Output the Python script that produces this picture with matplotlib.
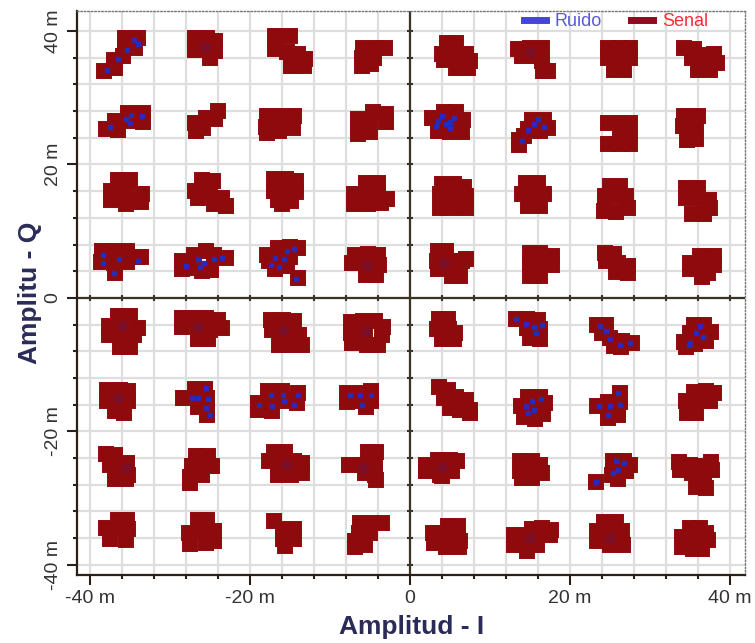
import matplotlib
matplotlib.use("Agg")
import matplotlib.pyplot as plt
from matplotlib.lines import Line2D
import numpy as np

plt.rcParams['font.family'] = ['Liberation Sans Narrow', 'Liberation Sans', 'DejaVu Sans']

# ---- data: Senal (red clusters), per cluster (I, Q) points in "m" ----
senal_I = [
    # row Q~37 (left half)
    -35.6, -34.0, -34.4, -35.8, -37.0, -38.2, -36.8, -35.6,
    -26.8, -25.3, -24.3, -26.8, -25.0, -24.3, -25.6,
    -16.8, -15.0, -16.8, -15.3, -14.0, -13.1, -14.8, -13.2,
    -5.8, -4.3, -3.1, -6.0, -4.5, -6.0, -4.8,
    # row Q~26
    -35.2, -33.3, -36.8, -35.0, -33.4, -38.0, -36.5,
    -24.0, -24.3, -25.5, -25.8, -26.7, -26.8,
    -17.9, -16.3, -14.5, -18.0, -16.3, -14.6, -17.9,
    -4.6, -3.0, -6.5, -5.0, -3.0, -6.5, -5.0,
    # row Q~15.5
    -36.5, -35.0, -37.4, -35.5, -33.5, -37.4, -35.5, -33.6,
    -26.0, -24.6, -26.8, -25.0, -23.5, -23.0, -24.5, -26.5,
    -17.0, -15.5, -14.2, -17.0, -15.5, -14.2, -16.0, -14.8, -16.5,
    -5.5, -4.0, -7.0, -5.5, -4.0, -2.9, -7.0, -5.2, -3.6,
    # row Q~5.5
    -38.5, -37.0, -35.4, -33.6, -38.6, -37.0, -35.3, -36.8,
    -28.5, -27.0, -25.5, -24.5, -23.0, -27.5, -26.0, -24.8, -28.5,
    -17.9, -16.5, -15.0, -14.0, -17.6, -16.2, -15.0, -16.8, -14.0, -15.3,
    -6.8, -5.2, -4.0, -7.2, -5.5, -3.8, -5.5, -4.2,
    # row Q~37 (right half)
    4.6, 5.8, 4.0, 5.5, 7.0, 7.5, 5.8, 7.2, 4.2,
    13.5, 15.0, 16.5, 14.0, 15.6, 16.5, 16.6, 17.3,
    24.8, 26.3, 27.5, 24.8, 26.3, 27.5, 25.5, 26.8,
    34.3, 35.5, 35.2, 36.5, 38.0, 36.0, 37.5, 38.4,
    # row Q~26
    4.2, 5.8, 2.7, 4.3, 5.8, 6.6, 3.5, 5.0, 6.5,
    15.2, 16.8, 14.8, 16.3, 17.3, 13.6, 14.3, 13.6,
    24.8, 26.3, 27.5, 26.3, 27.5, 24.8, 26.3, 27.5,
    34.3, 36.0, 34.1, 35.8, 34.6, 35.8, 34.8,
    # row Q~15.5
    4.0, 5.5, 6.8, 3.8, 5.5, 7.0, 3.8, 5.3, 7.0,
    14.5, 16.0, 14.0, 15.5, 16.8, 14.8, 16.2,
    25.0, 26.3, 24.4, 25.8, 27.0, 24.3, 25.7, 27.2,
    34.5, 36.0, 34.5, 36.0, 37.4, 35.2, 36.7, 37.5,
    # row Q~5.5
    3.5, 4.5, 3.4, 5.0, 6.5, 7.0, 5.2, 6.3, 3.5,
    15.0, 16.3, 17.8, 15.0, 16.5, 17.8, 15.0, 16.3,
    24.4, 25.5, 24.5, 26.0, 27.2, 25.8, 27.2,
    36.3, 38.0, 35.0, 36.5, 38.0, 36.5, 35.0, 37.3,
    # row Q~-5 (left)
    -36.5, -35.0, -37.6, -36.0, -34.0, -37.6, -36.0, -34.5, -36.2, -35.0,
    -28.5, -27.0, -25.5, -24.0, -23.5, -28.5, -26.5, -25.0, -26.5, -25.2,
    -17.3, -15.8, -14.5, -17.2, -15.5, -13.8, -16.3, -13.5, -15.0,
    -7.3, -5.8, -4.3, -3.4, -7.3, -5.6, -3.5, -7.2, -5.3, -4.0,
    # row Q~-15
    -37.8, -36.2, -35.2, -37.8, -36.3, -35.2, -35.7, -36.8,
    -26.8, -25.6, -28.3, -26.5, -25.3, -25.3, -25.3, -26.5,
    -17.7, -16.0, -14.0, -19.0, -17.3, -15.7, -14.1, -19.0, -17.2,
    -7.8, -6.3, -4.8, -7.8, -6.2, -4.8, -5.5,
    # row Q~-25
    -38.0, -36.8, -35.3, -37.5, -36.0, -35.2, -36.8, -35.5,
    -26.7, -25.2, -27.2, -25.5, -24.7, -27.5, -26.0, -27.5,
    -17.0, -15.6, -17.6, -16.0, -14.5, -13.5, -16.5, -14.8, -13.5,
    -5.2, -4.2, -7.6, -6.0, -4.4, -4.3, -4.2, -5.6,
    # row Q~-35
    -36.5, -35.3, -38.0, -36.5, -35.2, -37.5, -35.5,
    -26.5, -25.3, -27.6, -26.0, -24.5, -27.5, -25.5, -24.5,
    -17.0, -15.8, -14.5, -15.8, -14.5, -15.6,
    -6.2, -4.8, -3.5, -6.3, -5.0, -6.8, -6.8, -5.6,
    # row Q~-5 (right)
    3.6, 4.7, 3.4, 4.9, 5.6, 4.0, 5.5,
    13.2, 14.6, 16.0, 14.6, 16.3, 15.0, 16.3,
    23.4, 24.5, 24.0, 25.0, 25.5, 26.5, 27.8, 26.4,
    35.5, 36.8, 35.0, 36.5, 37.6, 34.3, 35.6, 37.0, 34.5,
    # row Q~-15
    3.6, 4.8, 4.3, 5.7, 7.0, 5.0, 6.2, 7.5, 7.5,
    14.8, 16.3, 13.9, 15.4, 16.9, 14.2, 15.6, 16.6,
    26.2, 24.8, 26.2, 23.4, 24.8, 26.0, 24.8, 26.0,
    35.5, 37.0, 38.0, 34.5, 36.0, 37.5, 34.6, 35.8,
    # row Q~-25
    2.0, 3.5, 5.0, 5.9, 2.0, 3.7, 5.2, 4.0,
    13.8, 15.2, 16.2, 13.8, 15.5, 16.5, 14.0, 15.3,
    23.3, 25.4, 26.8, 27.5, 25.4, 27.0, 26.0, 25.2,
    33.6, 35.0, 37.6, 36.3, 33.8, 35.3, 36.8, 37.7, 36.2, 37.0, 35.8,
    # row Q~-35
    4.8, 6.0, 2.9, 4.3, 5.8, 6.2, 3.0, 4.5, 6.1,
    15.3, 16.5, 17.6, 13.0, 14.5, 16.0, 17.5, 13.0, 14.5, 14.6, 15.9,
    24.3, 25.8, 23.4, 25.0, 26.5, 23.4, 25.0, 26.6,
    35.0, 36.3, 37.0, 34.0, 35.5, 37.3, 34.0, 35.4, 36.5,
]
senal_Q = [
    39.0, 39.0, 37.4, 36.2, 35.6, 34.0, 34.4, 37.6,
    38.9, 39.0, 38.5, 37.2, 36.0, 37.0, 37.6,
    39.2, 39.2, 37.3, 36.8, 36.5, 35.8, 34.8, 34.8,
    37.5, 37.5, 37.5, 36.0, 36.0, 34.8, 35.0,
    27.7, 27.7, 26.5, 26.5, 26.4, 25.3, 25.2,
    28.0, 26.8, 27.0, 25.5, 25.0, 26.2,
    27.3, 27.3, 27.2, 25.6, 25.0, 25.5, 24.7,
    27.9, 27.5, 26.8, 26.5, 26.3, 24.5, 24.8,
    17.6, 17.6, 16.0, 15.6, 15.6, 14.6, 14.0, 14.3,
    17.6, 17.5, 16.0, 15.8, 15.0, 13.8, 14.0, 15.0,
    17.8, 17.8, 17.5, 16.0, 16.0, 15.8, 14.0, 14.5, 14.6,
    17.2, 17.2, 15.5, 15.5, 15.5, 14.8, 14.1, 14.1, 14.2,
    7.0, 7.0, 7.0, 6.2, 5.4, 5.2, 5.4, 3.8,
    5.5, 6.5, 7.0, 6.5, 6.0, 4.5, 4.0, 4.2, 4.3,
    6.5, 7.5, 7.6, 7.5, 5.5, 5.8, 6.2, 4.4, 3.0, 4.8,
    6.5, 6.6, 6.5, 5.2, 5.0, 5.0, 3.4, 3.4,
    38.2, 38.2, 36.6, 36.6, 36.6, 35.5, 34.5, 34.4, 35.6,
    37.3, 37.5, 37.5, 36.3, 36.2, 35.5, 34.0, 34.0,
    37.4, 37.5, 37.4, 36.0, 36.0, 36.0, 34.1, 34.2,
    37.4, 37.3, 36.0, 36.4, 36.5, 34.2, 34.1, 35.2,
    27.9, 27.9, 26.9, 26.5, 26.5, 26.7, 25.0, 24.9, 24.9,
    26.6, 26.6, 25.3, 25.0, 25.4, 23.6, 24.3, 22.9,
    26.2, 26.2, 26.2, 24.6, 24.6, 23.0, 23.0, 23.0,
    27.2, 27.2, 25.8, 25.8, 23.7, 23.8, 24.9,
    17.0, 17.0, 16.6, 15.5, 15.3, 15.3, 13.4, 13.4, 13.5,
    17.2, 17.2, 15.5, 15.5, 15.5, 13.8, 13.8,
    16.8, 16.8, 15.3, 15.3, 15.2, 13.0, 12.9, 13.5,
    16.4, 16.4, 15.0, 15.0, 14.6, 12.6, 12.6, 13.5,
    7.0, 7.0, 5.5, 5.5, 5.5, 5.8, 3.3, 3.3, 4.3,
    6.8, 6.8, 6.3, 5.2, 5.2, 5.0, 3.3, 3.3,
    6.8, 6.6, 5.5, 5.2, 4.8, 3.9, 3.8,
    6.3, 6.3, 5.2, 5.0, 5.0, 3.1, 4.4, 3.8,
    -2.7, -2.7, -4.2, -4.2, -4.5, -5.6, -5.6, -5.5, -7.3, -7.3,
    -3.0, -3.0, -3.0, -3.3, -4.5, -4.3, -4.5, -4.8, -6.2, -6.2,
    -3.3, -3.3, -3.5, -4.8, -4.8, -5.5, -7.0, -7.0, -7.0,
    -3.6, -3.5, -3.5, -4.3, -5.2, -5.2, -5.5, -6.8, -7.0, -7.0,
    -13.8, -13.8, -14.0, -15.4, -15.4, -15.5, -17.2, -17.0,
    -13.6, -13.6, -15.0, -15.0, -15.0, -16.5, -17.6, -16.4,
    -14.0, -14.0, -14.2, -15.8, -15.5, -15.5, -15.8, -16.8, -16.9,
    -14.2, -14.2, -14.0, -15.6, -15.5, -15.5, -16.3,
    -23.4, -23.5, -24.8, -25.0, -25.5, -26.5, -27.2, -27.2,
    -23.7, -23.7, -25.2, -25.2, -25.2, -26.8, -26.5, -27.7,
    -23.1, -23.1, -24.5, -24.6, -24.5, -24.8, -26.5, -26.5, -26.2,
    -23.1, -23.1, -25.0, -25.0, -25.0, -26.5, -27.3, -26.2,
    -33.3, -33.3, -34.5, -34.7, -34.7, -36.2, -36.3,
    -33.3, -33.3, -35.2, -35.0, -35.0, -36.9, -36.8, -36.5,
    -33.4, -34.6, -34.6, -36.2, -36.2, -37.2,
    -33.8, -33.8, -33.8, -35.2, -35.2, -36.5, -37.4, -37.0,
    -3.2, -3.2, -4.7, -4.7, -5.2, -6.1, -6.1,
    -3.2, -3.2, -3.3, -4.5, -4.6, -6.0, -6.1,
    -4.1, -4.1, -5.2, -6.0, -7.2, -6.5, -6.8, -7.4,
    -4.0, -4.0, -5.3, -5.3, -5.1, -6.6, -6.9, -6.5, -7.4,
    -13.4, -13.8, -15.0, -14.8, -15.3, -16.5, -16.8, -16.8, -17.3,
    -14.8, -14.8, -16.2, -16.2, -15.8, -17.8, -18.1, -17.4,
    -14.3, -15.6, -15.6, -16.2, -16.6, -16.8, -18.0, -17.6,
    -14.1, -14.0, -14.3, -15.5, -15.5, -15.5, -17.2, -17.3,
    -25.0, -24.3, -24.3, -24.5, -26.0, -26.5, -26.0, -26.7,
    -24.4, -24.4, -25.0, -25.9, -26.0, -26.2, -27.0, -27.0,
    -27.6, -24.4, -24.4, -25.0, -25.9, -25.9, -27.1, -26.5,
    -24.6, -25.0, -24.6, -25.2, -25.8, -26.3, -26.3, -25.8, -27.8, -28.5, -28.3,
    -34.2, -34.2, -35.3, -35.3, -35.3, -36.5, -36.8, -37.3, -37.3,
    -34.6, -34.5, -34.8, -35.5, -35.6, -35.6, -35.6, -37.0, -37.0, -38.0, -37.0,
    -33.6, -33.6, -35.0, -35.0, -35.0, -36.5, -37.0, -37.0,
    -34.5, -34.5, -35.3, -35.8, -35.8, -36.3, -37.3, -37.6, -37.6,
]

# ---- data: Ruido (blue noise dots visible inside clusters) ----
ruido_I = [
    -34.5, -35.3, -36.5, -37.8, -34.0,
    -35.0, -35.5, -33.5, -37.5, -34.8,
    -36.3, -38.3, -37.0, -34.0, -38.4,
    -26.5, -26.2, -25.7, -24.5, -28.0, -23.5,
    -16.8, -15.3, -15.7, -16.3, -14.2, -17.4, -14.5,
    3.5, 4.5, 5.0, 5.5, 4.0, 5.0, 3.2,
    15.5, 16.8, 14.8, 14.0, 16.0,
    -25.5, -26.5, -25.2, -27.2, -25.5, -25.0,
    -17.3, -15.8, -14.0, -18.8, -17.2, -15.7, -14.5,
    -7.5, -6.2, -4.8, -6.0,
    13.3, 14.5, 15.5, 15.8, 16.5,
    23.8, 24.5, 25.0, 26.3, 27.5,
    36.3, 35.8, 36.6, 35.0, 34.9,
    14.5, 15.2, 15.5, 16.4, 14.8,
    26.0, 23.6, 25.0, 26.2, 24.8,
    23.3, 25.8, 26.8, 26.0, 25.4,
]
ruido_Q = [
    38.6, 37.2, 35.8, 34.2, 38.0,
    26.2, 26.8, 27.2, 25.6, 27.4,
    5.9, 6.4, 3.8, 5.6, 5.2,
    5.8, 4.6, 5.2, 5.8, 4.8, 6.0,
    6.0, 7.1, 5.9, 4.6, 2.9, 5.0, 7.3,
    26.5, 26.0, 26.3, 27.0, 27.3, 25.4, 25.8,
    26.0, 25.6, 25.2, 23.5, 26.8,
    -13.5, -15.0, -15.2, -15.0, -16.5, -17.5,
    -14.5, -14.6, -14.6, -16.0, -16.2, -15.5, -16.0,
    -14.5, -14.6, -14.5, -16.0,
    -3.2, -3.9, -4.4, -5.2, -4.0,
    -4.2, -5.0, -6.2, -7.0, -6.8,
    -4.2, -5.3, -5.8, -6.8, -7.0,
    -16.2, -15.5, -16.8, -15.1, -17.3,
    -14.3, -16.2, -16.2, -16.0, -17.6,
    -27.6, -24.4, -24.8, -25.8, -26.3,
]

# diffuse noise (purple tint at centres of some clusters)
difuso_I = [-25.6, -5.3, 15.0, 4.2, -36.0, -26.5, -15.8, -5.5, -36.5, -15.5, -5.8, 4.0, 15.0, 25.0, -35.5]
difuso_Q = [37.6, 5.0, 36.8, 5.3, -4.2, -4.3, -4.8, -5.0, -15.0, -25.0, -25.5, -25.4, -36.0, -36.0, -25.5]

x_ticks = [-40, -20, 0, 20, 40]
x_ticklabels = ['-40 m', '-20 m', '0', '20 m', '40 m']
y_ticks = [-40, -20, 0, 20, 40]
y_ticklabels = ['-40 m', '-20 m', '0', '20 m', '40 m']
grid_pos = np.arange(-40, 41, 4)

fig = plt.figure(figsize=(7.55, 6.43), dpi=100)
ax = fig.add_axes([0.102, 0.106, 0.885, 0.877])
ax.set_xlim(-41.6, 41.9)
ax.set_ylim(-41.5, 43.0)

# grid
for g in grid_pos:
    ax.axvline(g, color='#dedede', lw=1.6, zorder=0)
    ax.axhline(g, color='#dedede', lw=1.6, zorder=0)

# central axes
ax.axhline(0, color='#3a3326', lw=1.6, zorder=1)
ax.axvline(0, color='#3a3326', lw=1.6, zorder=1)
minor = [g for g in grid_pos if g != 0]
ax.plot(minor, [0] * len(minor), linestyle='none', marker='|', ms=5, mew=1.5,
        color='#3a3326', zorder=1)
ax.plot([0] * len(minor), minor, linestyle='none', marker='_', ms=5, mew=1.5,
        color='#3a3326', zorder=1)

# signal
ax.plot(senal_I, senal_Q, linestyle='none', marker='s', ms=9.6, mfc='#8e0a0c',
        mec='#8e0a0c', mew=1.4, zorder=2)
ax.plot(difuso_I, difuso_Q, linestyle='none', marker='o', ms=8, mfc='#4a1a70',
        mec='none', alpha=0.25, zorder=3)
ax.plot(ruido_I, ruido_Q, linestyle='none', marker='s', ms=2.4, mfc='#2a2ab8',
        mec='#2a2ab8', zorder=4)

# spines
for s in ['top', 'right']:
    ax.spines[s].set_linestyle((0, (1, 1.5)))
    ax.spines[s].set_color('#777777')
    ax.spines[s].set_linewidth(1.0)
ax.spines['left'].set_color('#2a2018')
ax.spines['left'].set_linewidth(1.6)
ax.spines['bottom'].set_color('#2a2018')
ax.spines['bottom'].set_linewidth(1.6)

ax.set_xticks(x_ticks)
ax.set_xticklabels(x_ticklabels)
ax.set_yticks(y_ticks)
ax.set_yticklabels(y_ticklabels, rotation=90, va='center')
ax.set_xticks(grid_pos, minor=True)
ax.set_yticks(grid_pos, minor=True)
ax.tick_params(axis='both', which='major', direction='out', length=7, width=1.5,
               color='#2a2018', labelsize=14, labelcolor='#333333', pad=4)
ax.tick_params(axis='both', which='minor', direction='out', length=3, width=1.5,
               color='#2a2018')

ax.set_xlabel('Amplitud - I', fontsize=19, fontweight='bold', color='#2b2b58', labelpad=6)
ax.set_ylabel('Amplitu - Q', fontsize=19, fontweight='bold', color='#2b2b58', labelpad=2)

handles = [Line2D([0], [0], color='#4646d6', lw=5),
           Line2D([0], [0], color='#8e0a1c', lw=5)]
ax.legend(handles, ['Ruido', 'Senal'], loc='upper left', bbox_to_anchor=(0.645, 1.025),
          ncol=2, frameon=False, fontsize=13, handlelength=1.2, handletextpad=0.5,
          columnspacing=1.6, labelcolor=['#5a5ad8', '#ff2a3a'])

fig.savefig('out.png', dpi=100)
